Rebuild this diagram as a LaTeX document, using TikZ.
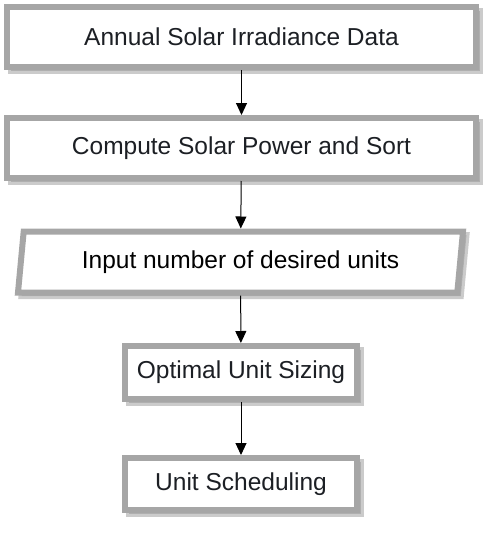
\documentclass[tikz,border=0pt]{standalone}
\usepackage{fontspec}
\setmainfont{Liberation Sans}
\usepackage{tikz}
\usetikzlibrary{shapes.geometric,shadows,arrows.meta}
\definecolor{boxgray}{HTML}{A6A6A6}
\definecolor{txtgray}{HTML}{1C1F24}

\begin{document}
\begin{tikzpicture}[x=1pt,y=-1pt,
  blk/.style n args={2}{rectangle,draw=boxgray,fill=white,line width=6pt,minimum width=#1,minimum height=#2,inner sep=0pt,text=txtgray,font=\fontsize{24.5}{29}\selectfont,drop shadow={shadow xshift=3.5pt,shadow yshift=-3.5pt,fill=black!45,draw=black!45,line width=6pt,opacity=0.45}},
  inp/.style={blk={445}{61},trapezium,trapezium left angle=76,trapezium right angle=104,trapezium stretches body,text=black},
  flw/.style={line width=1pt,-{Triangle[width=11pt,length=12pt]}}]
\useasboundingbox (0,0) rectangle (490,533);
\node[blk={469}{60}] (data) at (241.5,37) {Annual Solar Irradiance Data};
\node[blk={469}{60}] (power) at (241.5,148) {Compute Solar Power and Sort};
\node[inp] (units) at (240.5,262) {Input number of desired units};
\node[blk={232}{53}] (sizing) at (241,372.5) {Optimal Unit Sizing};
\node[blk={232}{52}] (sched) at (241,484) {Unit Scheduling};
\foreach \a/\b in %
{data/power,power/units,units/sizing,sizing/sched} {
   \draw[flw] (\a) -- (\b);
}
\end{tikzpicture}
\end{document}
